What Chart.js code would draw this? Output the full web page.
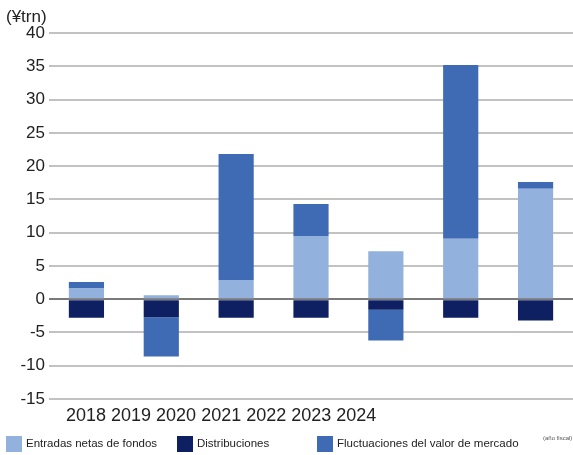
<!DOCTYPE html>
<html>
<head>
<meta charset="utf-8">
<script src="https://cdn.jsdelivr.net/npm/chart.js@4/dist/chart.umd.min.js"></script>
<style>
  html, body { margin: 0; padding: 0; background: #fff; }
  #wrap { width: 573px; height: 455px; position: relative; }
</style>
</head>
<body>
<div id="wrap"><canvas id="chart"></canvas></div>
<script>
// fiscal years
var years = ['2018', '2019', '2020', '2021', '2022', '2023', '2024'];

// values in trillion yen
var netInflows   = [1.6, 0.6, 2.9, 9.5, 7.2, 9.1, 16.6];
var distributions = [-2.8, -2.7, -2.8, -2.8, -1.6, -2.8, -3.2];
var marketChange = [1.0, -5.9, 18.9, 4.8, -4.6, 26.1, 1.0];

var seriesNames = ['Entradas netas de fondos', 'Distribuciones', 'Fluctuaciones del valor de mercado'];
var seriesColors = ['#92b1dd', '#0e1f62', '#3f6bb5'];

var yMin = -15, yMax = 40, yStep = 5;
var unitLabel = '(\u00a5trn)';
var fiscalNote = '(a\u00f1o fiscal)';

var fontFamily = '"Liberation Sans", Arial, sans-serif';

// extra text: unit, bunched year labels, legend, note
var extras = {
    id: 'extras',
    afterDraw: function(chart) {
	var ctx = chart.ctx;
	var area = chart.chartArea;
	ctx.save();
	ctx.fillStyle = '#222';
	ctx.textBaseline = 'middle';

	ctx.font = '17px ' + fontFamily;
	ctx.textAlign = 'left';
	ctx.fillText(unitLabel, 6, 17);

	ctx.font = '18px ' + fontFamily;
	ctx.fillText(years.join(' '), 66, area.bottom + 17);

	var legendX = [6, 177, 317];
	ctx.font = '11.5px ' + fontFamily;
	chart.data.datasets.forEach(function(ds, i) {
	    ctx.fillStyle = ds.backgroundColor;
	    ctx.fillRect(legendX[i], 436, 16, 16);
	    ctx.fillStyle = '#222';
	    ctx.fillText(ds.label, legendX[i] + 20, 444);
	});

	ctx.font = '6px ' + fontFamily;
	ctx.fillStyle = '#555';
	ctx.fillText(fiscalNote, 543, 438);
	ctx.restore();
    }
};

var ctx = document.getElementById('chart').getContext('2d');

new Chart(ctx, {
    type: 'bar',
    data: {
	labels: years,
	datasets: [
	    { label: seriesNames[0], data: netInflows, backgroundColor: seriesColors[0] },
	    { label: seriesNames[1], data: distributions, backgroundColor: seriesColors[1] },
	    { label: seriesNames[2], data: marketChange, backgroundColor: seriesColors[2] }
	]
    },
    options: {
	responsive: true,
	maintainAspectRatio: false,
	animation: false,
	devicePixelRatio: 1,
	layout: { padding: { top: 33, bottom: 56, right: 0, left: 0 } },
	datasets: {
	    bar: { barPercentage: 0.47, categoryPercentage: 1.0, borderWidth: 0 }
	},
	plugins: {
	    legend: { display: false },
	    tooltip: { enabled: false }
	},
	scales: {
	    x: {
		display: false,
		stacked: true
	    },
	    y: {
		stacked: true,
		min: yMin,
		max: yMax,
		afterFit: function(scale) { scale.width = 49; },
		border: { display: false },
		grid: {
		    drawTicks: false,
		    lineWidth: 2,
		    color: function(c) { return c.tick && c.tick.value === 0 ? '#7a7a7a' : '#c2c2c2'; }
		},
		ticks: {
		    stepSize: yStep,
		    padding: 4,
		    color: '#222',
		    font: { family: fontFamily, size: 17 }
		}
	    }
	}
    },
    plugins: [extras]
});
</script>
</body>
</html>
